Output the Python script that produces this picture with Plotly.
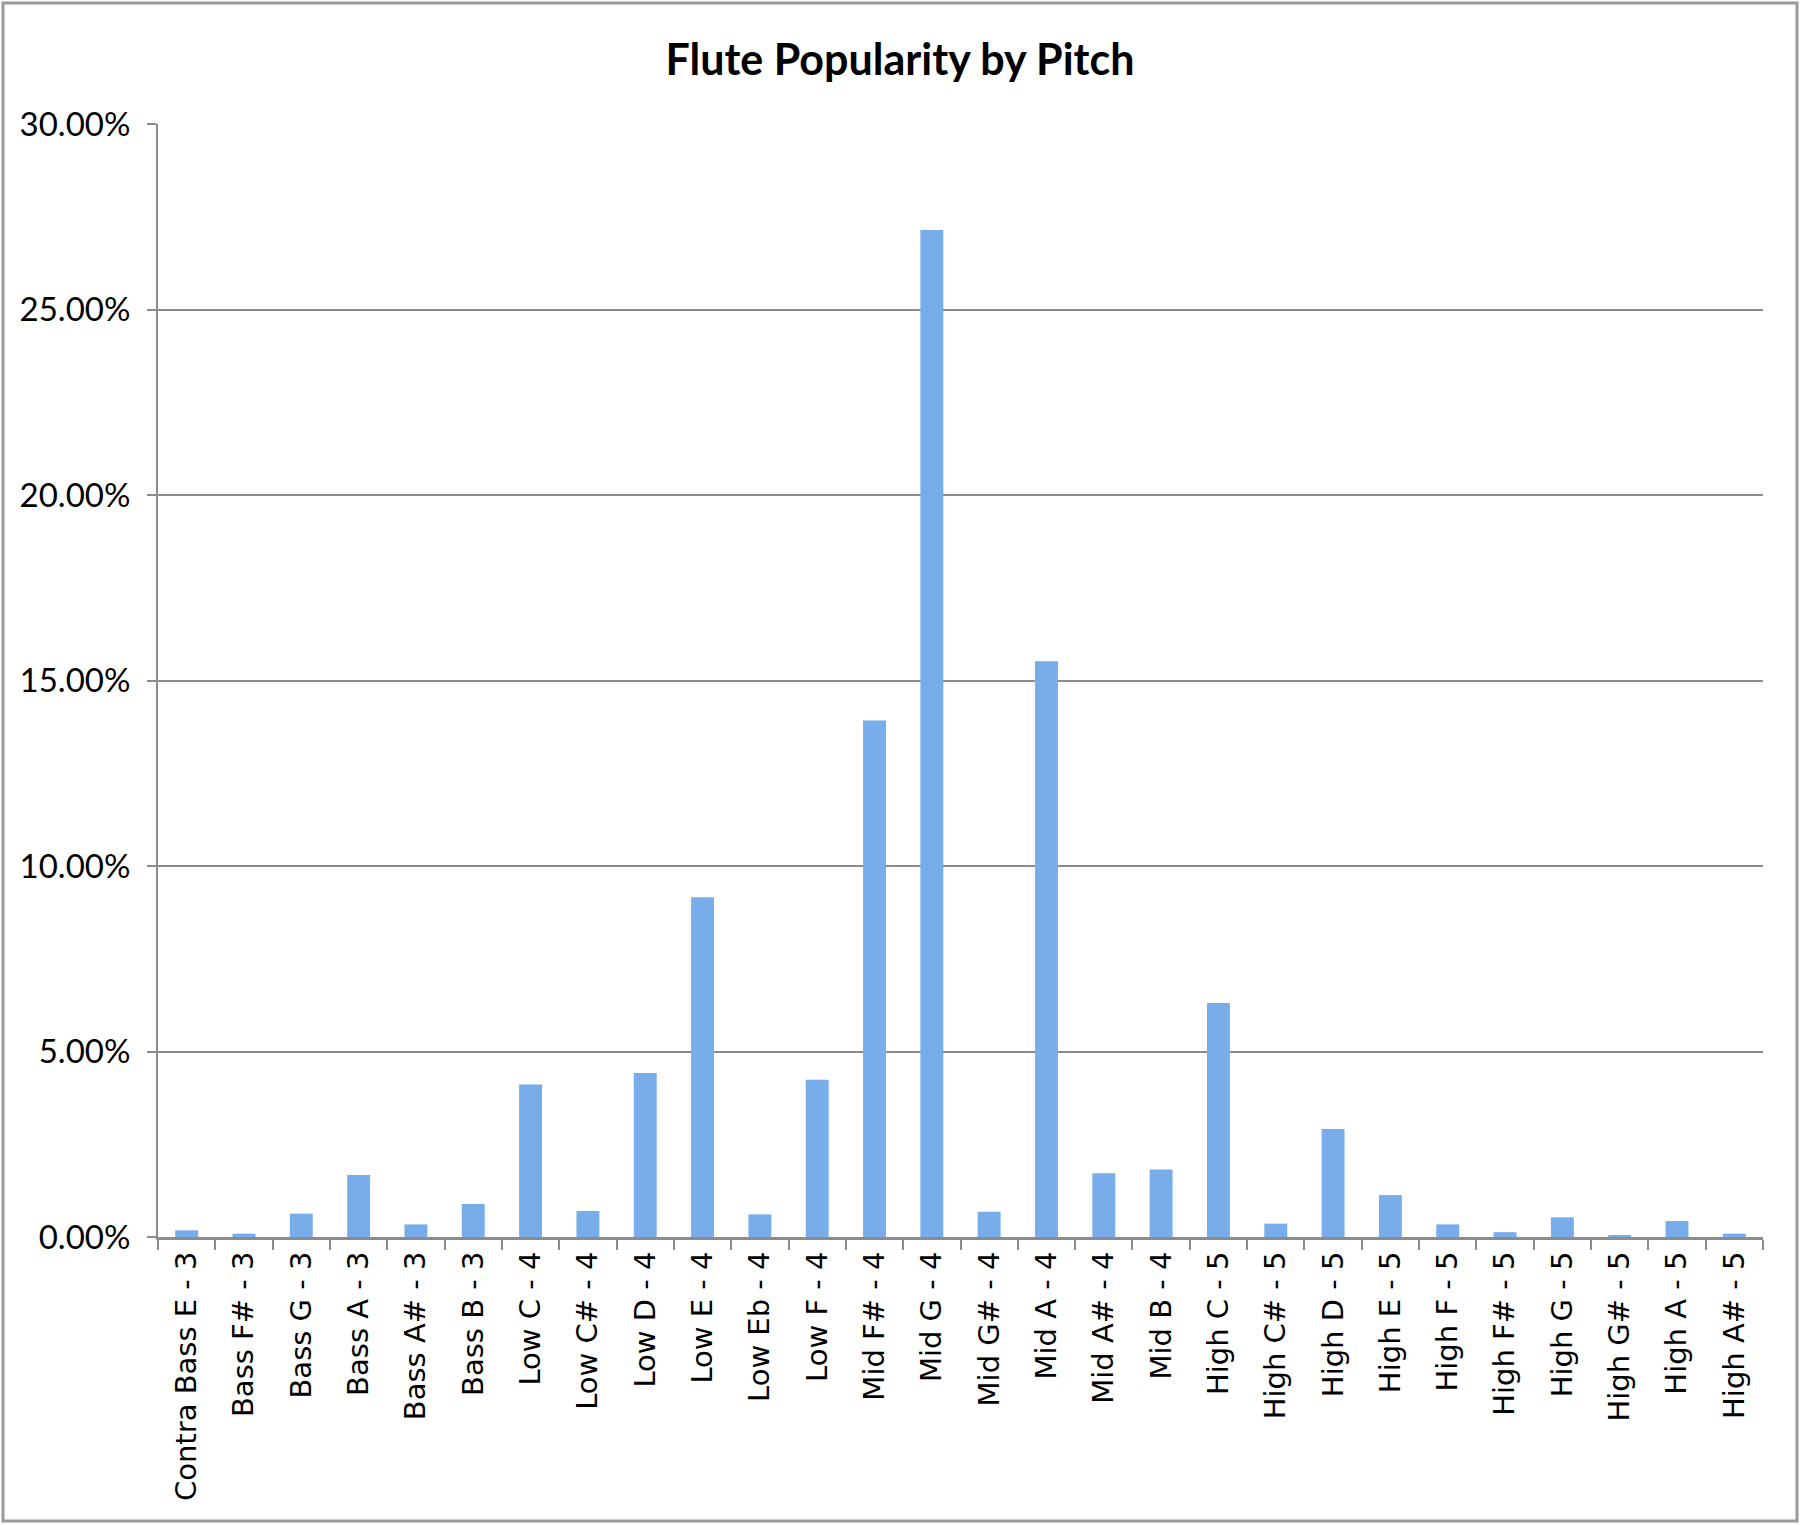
import plotly.graph_objects as go

categories = [
    "Contra Bass E - 3", "Bass F# - 3", "Bass G - 3", "Bass A - 3", "Bass A# - 3",
    "Bass B - 3", "Low C - 4", "Low C# - 4", "Low D - 4", "Low E - 4",
    "Low Eb - 4", "Low F - 4", "Mid F# - 4", "Mid G - 4", "Mid G# - 4",
    "Mid A - 4", "Mid A# - 4", "Mid B - 4", "High C - 5", "High C# - 5",
    "High D - 5", "High E - 5", "High F - 5", "High F# - 5", "High G - 5",
    "High G# - 5", "High A - 5", "High A# - 5",
]
popularity = [
    0.0018, 0.0009, 0.0063, 0.0167, 0.0034,
    0.0089, 0.0411, 0.0070, 0.0442, 0.0916,
    0.0061, 0.0424, 0.1392, 0.2714, 0.0068,
    0.1552, 0.0172, 0.0182, 0.0631, 0.0036,
    0.0291, 0.0113, 0.0034, 0.0013, 0.0053,
    0.0005, 0.0043, 0.0009,
]
y_ticks = [0, 0.05, 0.10, 0.15, 0.20, 0.25, 0.30]

GRAY = "#8c8c8c"

fig = go.Figure(
    go.Bar(
        x=categories,
        y=popularity,
        marker=dict(color="#78adec", line=dict(width=0)),
        width=0.4,
    )
)

fig.update_layout(
    width=1800,
    height=1525,
    paper_bgcolor="white",
    plot_bgcolor="white",
    margin=dict(l=158, r=37, t=124, b=288),
    showlegend=False,
    title=dict(
        text="<b>Flute Popularity by Pitch</b>",
        x=0.5,
        xanchor="center",
        y=1 - 60 / 1525,
        yanchor="middle",
        font=dict(family="Lato", size=43, color="black"),
    ),
    shapes=[
        dict(
            type="rect", xref="paper", yref="paper",
            x0=(3 - 158) / 1605, x1=(1797 - 158) / 1605,
            y0=(1237 - 1521) / 1113, y1=(1237 - 3) / 1113,
            line=dict(color="#9a9a9a", width=3),
            fillcolor="rgba(0,0,0,0)",
            layer="below",
        )
    ],
)

fig.update_yaxes(
    range=[0, 0.30],
    tickvals=y_ticks,
    tickformat=".2%",
    showgrid=True,
    gridcolor=GRAY,
    gridwidth=2,
    showline=True,
    linecolor=GRAY,
    linewidth=2,
    ticks="outside",
    ticklen=9,
    tickwidth=2,
    tickcolor=GRAY,
    ticklabelstandoff=10,
    zeroline=False,
    tickfont=dict(family="Lato", size=33, color="black"),
)

fig.update_xaxes(
    showline=True,
    linecolor=GRAY,
    linewidth=3,
    ticks="outside",
    tickson="boundaries",
    ticklen=10,
    tickwidth=2,
    tickcolor=GRAY,
    tickangle=-90,
    showgrid=False,
    tickfont=dict(family="DejaVu Sans", size=29, color="black"),
)

fig.write_html(
    "out.html",
    config={"displayModeBar": False},
    post_script="document.body.style.margin='0';document.body.style.padding='0';",
)
